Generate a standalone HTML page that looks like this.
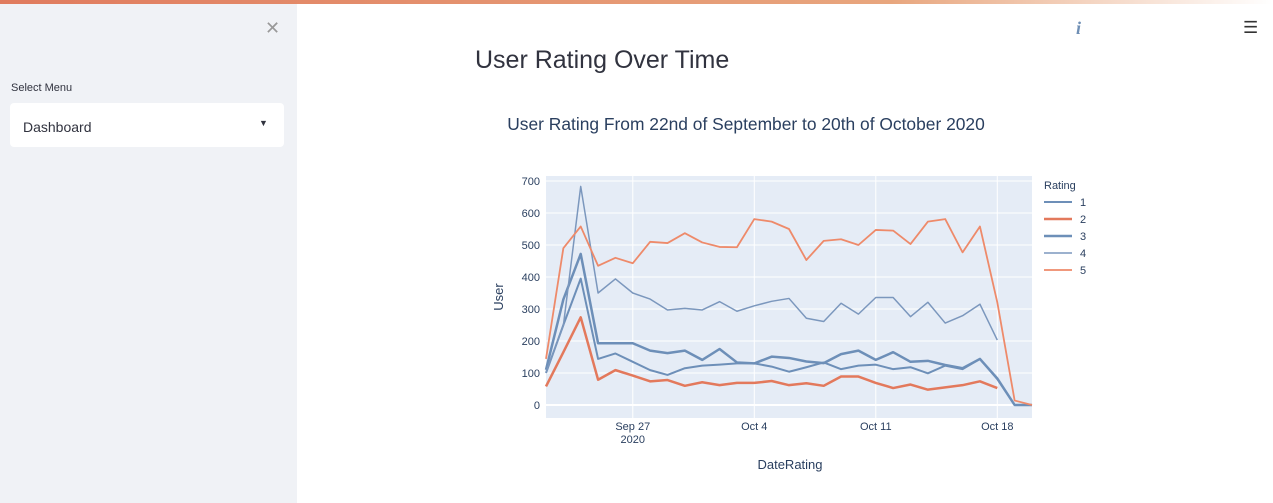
<!DOCTYPE html>
<html><head><meta charset="utf-8"><style>
body{margin:0;width:1273px;height:503px;overflow:hidden;background:#fff;font-family:"Liberation Sans",sans-serif;position:relative}
#topbar{position:absolute;left:0;top:0;width:1273px;height:4px;background:linear-gradient(90deg,#e07b5e,#e8a67e 70%,#fff)}
#sidebar{position:absolute;left:0;top:4px;width:297px;height:499px;background:#f0f2f6}
.abs{position:absolute}
</style></head><body>
<div id="topbar"></div>
<div id="sidebar">
<div class="abs" style="left:265px;top:14px;font-size:18px;color:#999">✕</div>
<div class="abs" style="left:11px;top:78px;font-size:11px;color:#31333f">Select Menu</div>
<div class="abs" style="left:10px;top:99px;width:274px;height:44px;background:#fff;border-radius:4px">
<span class="abs" style="left:13px;top:16px;font-size:14px;color:#31333f">Dashboard</span>
<span class="abs" style="left:249px;top:15px;font-size:9px;color:#31333f">▼</span></div>
</div>
<div class="abs" style="left:1076px;top:18px;font-size:18px;color:#6f8fb5;font-style:italic;font-family:'Liberation Serif',serif;font-weight:bold">i</div>
<div class="abs" style="left:1243px;top:18px;font-size:17px;color:#333">☰</div>
<div class="abs" style="left:475px;top:46px;font-size:25px;color:#31333f">User Rating Over Time</div>
<svg class="abs" style="left:0;top:0" width="1273" height="503" id="chart"></svg>
<script>
const dates=["Sep 22","Sep 23","Sep 24","Sep 25","Sep 26","Sep 27","Sep 28","Sep 29","Sep 30","Oct 1","Oct 2","Oct 3","Oct 4","Oct 5","Oct 6","Oct 7","Oct 8","Oct 9","Oct 10","Oct 11","Oct 12","Oct 13","Oct 14","Oct 15","Oct 16","Oct 17","Oct 18","Oct 19","Oct 20"];
const rating1=[100,250,395,144,161,135,109,94,115,123,126,130,130,120,104,118,133,112,123,126,112,118,99,123,112,144,81,0,0];
const rating2=[58,165,274,79,109,92,74,78,60,71,62,69,69,75,62,68,60,89,89,69,53,64,48,55,62,74,53];
const rating3=[110,330,472,193,193,193,170,162,170,141,175,133,130,151,147,136,131,159,170,141,165,135,138,125,115,144,83,0,0];
const rating4=[102,248,683,350,394,350,331,297,302,297,323,293,310,324,333,271,261,318,284,336,336,276,321,256,279,315,203];
const rating5=[144,490,558,435,460,443,510,506,537,508,494,493,581,573,550,453,513,518,500,547,545,503,573,581,477,558,321,14,0];
const yTicks=[0,100,200,300,400,500,600,700];
const xTickIdx=[5,12,19,26];
const xTickLabels=["Sep 27","Oct 4","Oct 11","Oct 18"];
const seriesNames=["1","2","3","4","5"];
const svg=document.getElementById('chart');const NS='http://www.w3.org/2000/svg';
const L=546,R=1032,T=176,B=418;
const xs=i=>L+(R-L)*i/(dates.length-1);
const ys=v=>405-v*0.32;
function mk(t,a,p){const e=document.createElementNS(NS,t);for(const k in a)e.setAttribute(k,a[k]);(p||svg).appendChild(e);return e}
const bg=mk('rect',{x:L,y:T,width:R-L,height:B-T,fill:'#e5ecf6'});


yTicks.forEach(v=>{const g=mk('line',{x1:L,x2:R,y1:ys(v),y2:ys(v),stroke:'#fff','stroke-width':v===0?2:1});


const t=mk('text',{x:L-6,y:ys(v)+4,'text-anchor':'end','font-size':11,fill:'#2a3f5f'});t.textContent=v;

});
xTickIdx.forEach((i,k)=>{const g=mk('line',{x1:xs(i),x2:xs(i),y1:T,y2:B,stroke:'#fff'});


const t=mk('text',{x:xs(i),y:B+12,'text-anchor':'middle','font-size':11,fill:'#2a3f5f'});t.textContent=xTickLabels[k];

});
const yr=mk('text',{x:xs(5),y:B+25,'text-anchor':'middle','font-size':11,fill:'#2a3f5f'});yr.textContent='2020';


const series=[rating1,rating2,rating3,rating4,rating5];
const cols=['#6d8fb8','#e3795c','#6d8fb8','#7b97bd','#ee8a6a'];
const widths=[2,2.5,2.5,1.5,1.8];
series.forEach((s,k)=>{const p=mk('polyline',{points:s.map((v,i)=>xs(i)+','+ys(v)).join(' '),fill:'none',stroke:cols[k],'stroke-width':widths[k],'stroke-linejoin':'round'});


const ly=202+k*17;
const ll=mk('line',{x1:1044,x2:1072,y1:ly,y2:ly,stroke:cols[k],'stroke-width':widths[k]});


const lt=mk('text',{x:1080,y:ly+4,'font-size':11,fill:'#2a3f5f'});lt.textContent=seriesNames[k];

});
const lg=mk('text',{x:1044,y:189,'font-size':11,fill:'#2a3f5f'});lg.textContent='Rating';


const ct=mk('text',{x:746,y:130,'text-anchor':'middle','font-size':17.4,fill:'#2a3f5f'});ct.textContent='User Rating From 22nd of September to 20th of October 2020';


const xt=mk('text',{x:790,y:469,'text-anchor':'middle','font-size':13,fill:'#2a3f5f'});xt.textContent='DateRating';


const yt=mk('text',{x:503,y:297,'text-anchor':'middle','font-size':13,fill:'#2a3f5f',transform:'rotate(-90 503 297)'});yt.textContent='User';


</script>
</body></html>
